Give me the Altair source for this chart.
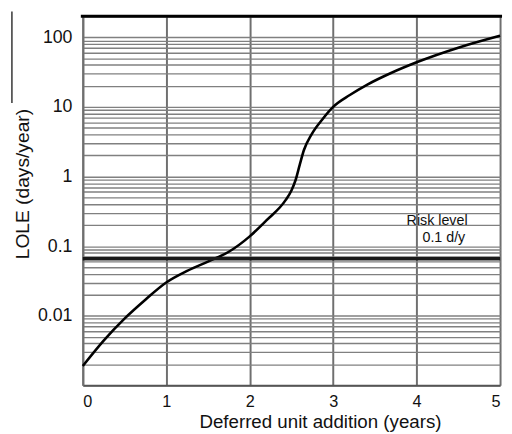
import altair as alt
import pandas as pd

# Curve
years = [0, 0.25, 0.5, 0.75, 1, 1.25, 1.5, 1.75, 2, 2.2, 2.43, 2.5, 2.55, 2.6, 2.65,
         2.74, 2.87, 3, 3.2, 3.41, 3.7, 4, 4.5, 5]
lole = [0.0019, 0.0044, 0.0091, 0.017, 0.030, 0.044, 0.060, 0.083, 0.138, 0.234, 0.457,
        0.63, 0.89, 1.48, 2.4, 4.0, 6.6, 10, 14.8, 20.9, 30.9, 43.7, 70.8, 105]

risk_level = [0.066]
x_ticks = [0, 1, 2, 3, 4, 5]
y_grid = [m * d for d in [0.001, 0.01, 0.1, 1, 10, 100] for m in range(1, 10) if m * d <= 200]
y_grid.append(200)

annot_text = ["Risk level", "0.1 d/y"]
annot_x = [3.88, 4.07]
annot_y = [0.2, 0.116]

FONT = "Liberation Sans"
ydom = [0.001, 200]

df = pd.DataFrame({"x": years, "y": lole})

xenc = alt.X("x:Q", scale=alt.Scale(domain=[0, 5], nice=False),
             axis=alt.Axis(values=x_ticks, title="Deferred unit addition (years)", format="d",
                           grid=True, gridColor="#6f6f6f", gridWidth=2,
                           domainColor="#555555", domainWidth=2,
                           ticks=False, tickSize=0, labelPadding=9,
                           labelFontSize=16.5, labelFont=FONT, labelColor="#111",
                           titleFontSize=19, titleFont=FONT, titleFontWeight="normal",
                           titleColor="#111", titleX=241, titleY=42.5,
                           titleBaseline="alphabetic", titleAlign="center"))
yenc = alt.Y("y:Q", scale=alt.Scale(type="log", domain=ydom, nice=False),
             axis=alt.Axis(values=y_grid, title="LOLE (days/year)",
                           labelExpr="datum.value == 100 ? '100' : datum.value == 10 ? '10' : datum.value == 1 ? '1' : (abs(datum.value - 0.1) < 1e-9) ? '0.1' : (abs(datum.value - 0.01) < 1e-10) ? '0.01' : ''",
                           grid=True, gridColor="#808080", gridWidth=1.4,
                           domainColor="#6f6f6f", domainWidth=2,
                           ticks=False, tickSize=0, labelPadding=11,
                           labelFontSize=18, labelFont=FONT, labelColor="#111",
                           labelOverlap=False,
                           titleFontSize=19.5, titleFont=FONT, titleFontWeight="normal",
                           titleColor="#111", titleX=-55, titleY=170,
                           titleBaseline="alphabetic", titleAlign="center", titleAngle=270))

curve = alt.Chart(df).mark_line(color="black", strokeWidth=2.6, interpolate="monotone").encode(
    x=xenc, y=yenc)

risk = alt.Chart(pd.DataFrame({"y": risk_level})).mark_rule(color="#1a1a1a", strokeWidth=3.5).encode(
    y=alt.Y("y:Q"), x=alt.value(0), x2=alt.value(424))

annot = alt.Chart(pd.DataFrame({"x": annot_x, "y": annot_y, "t": annot_text})).mark_text(
    align="left", baseline="alphabetic", fontSize=14.5, font=FONT, color="#111").encode(
    x=alt.X("x:Q"), y=alt.Y("y:Q"), text="t:N")

top = alt.Chart(pd.DataFrame({"a": [0]})).mark_rule(color="black", strokeWidth=3).encode(
    x=alt.value(-2), x2=alt.value(426), y=alt.value(0))

artifact = alt.Chart(pd.DataFrame({"a": [0]})).mark_rule(color="black", strokeWidth=1.2).encode(
    x=alt.value(-72), y=alt.value(-5), y2=alt.value(88))

chart = alt.layer(curve, risk, annot, top, artifact).properties(
    width=424, height=375,
    autosize=alt.AutoSizeParams(type="none"),
    padding={"left": 76, "top": 5, "right": 4, "bottom": 46},
).configure_view(stroke=None)

chart.save("out.html", embed_options={"renderer": "svg", "actions": False})
